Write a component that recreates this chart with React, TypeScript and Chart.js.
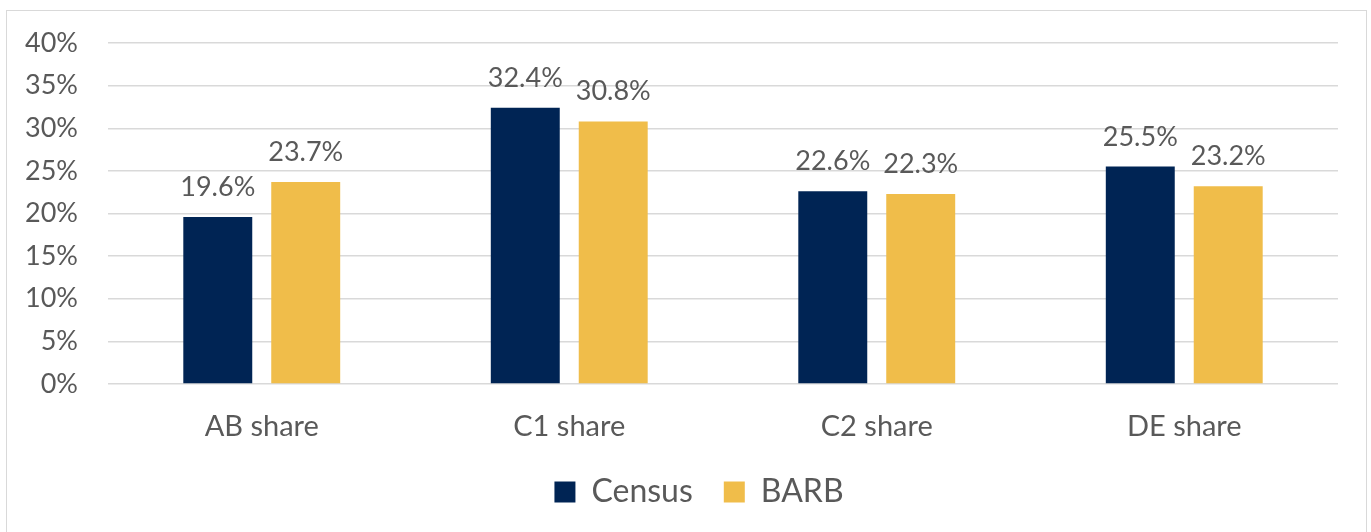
import React, { useEffect, useRef } from "react";
import { Chart, registerables } from "chart.js";

Chart.register(...registerables);

const categories = ["AB share", "C1 share", "C2 share", "DE share"];
const censusValues = [19.6, 32.4, 22.6, 25.5];
const barbValues = [23.7, 30.8, 22.3, 23.2];
const seriesNames = ["Census", "BARB"];

const NAVY = "#002454";
const GOLD = "#F0BD4A";
const TEXT = "#595959";
const GRID = "#D9D9D9";
const FONT = "Lato, 'Open Sans', sans-serif";

const LEGEND_TOP = 445;
const LEGEND_SHIFT = 30;

const dataLabels = {
  id: "dataLabels",
  afterInit(chart: any) {
    const lg = chart.legend;
    if (lg && !lg.__patched) {
      const orig = lg.fit.bind(lg);
      lg.fit = () => {
        orig();
        lg.height = 532 - LEGEND_TOP;
      };
      lg.__patched = true;
    }
  },
  afterLayout(chart: any) {
    const lg = chart.legend;
    if (lg) {
      lg.top = LEGEND_TOP;
      lg.bottom = LEGEND_TOP + lg.height;
      lg.left += LEGEND_SHIFT;
      lg.right += LEGEND_SHIFT;
    }
  },
  afterDatasetsDraw(chart: any) {
    const ctx = chart.ctx;
    ctx.save();
    ctx.font = `27px ${FONT}`;
    ctx.fillStyle = TEXT;
    ctx.textAlign = "center";
    ctx.textBaseline = "alphabetic";
    chart.data.datasets.forEach((ds: any, i: number) => {
      const meta = chart.getDatasetMeta(i);
      meta.data.forEach((bar: any, j: number) => {
        ctx.fillText(ds.data[j].toFixed(1) + "%", bar.x, bar.y - 21);
      });
    });
    ctx.restore();
  },
};

export default function App() {
  const ref = useRef<HTMLCanvasElement | null>(null);
  useEffect(() => {
    document.body.style.margin = "0";
    const chart = new Chart(ref.current!, {
      type: "bar",
      data: {
        labels: categories,
        datasets: [
          { label: seriesNames[0], data: censusValues, backgroundColor: NAVY },
          { label: seriesNames[1], data: barbValues, backgroundColor: GOLD },
        ],
      },
      options: {
        animation: false,
        responsive: false,
        maintainAspectRatio: false,
        layout: { padding: { top: 43, right: 33, bottom: 0, left: 0 } },
        datasets: {
          bar: { categoryPercentage: 0.572, barPercentage: 0.784 },
        } as any,
        scales: {
          x: {
            grid: { display: false },
            border: { display: false },
            ticks: { color: TEXT, font: { family: FONT, size: 29 }, padding: 17 },
            afterFit: (s: any) => {
              s.height = LEGEND_TOP - 384;
            },
          },
          y: {
            min: 0,
            max: 40,
            ticks: {
              stepSize: 5,
              color: TEXT,
              padding: 0,
              font: { family: FONT, size: 27 },
              callback: (v: any) => v + "%",
            },
            grid: {
              color: GRID,
              lineWidth: 1.5,
              drawTicks: true,
              tickLength: 30,
              tickColor: "rgba(0,0,0,0)",
            },
            border: { display: false },
            afterFit: (s: any) => {
              s.width = 108;
            },
          },
        },
        plugins: {
          legend: {
            position: "bottom",
            labels: {
              boxWidth: 21,
              boxHeight: 21,
              padding: 31,
              color: TEXT,
              font: { family: FONT, size: 32 },
            },
          },
          tooltip: { enabled: false },
        },
      },
      plugins: [dataLabels],
    });
    return () => chart.destroy();
  }, []);
  return (
    <div style={{ position: "fixed", left: 0, top: 0, width: 1371, height: 532, background: "#fff" }}>
      <div
        style={{
          position: "absolute",
          left: 6,
          top: 10,
          width: 1359,
          height: 600,
          border: "1.5px solid #D9D9D9",
        }}
      />
      <canvas ref={ref} width={1371} height={532} style={{ position: "absolute", left: 0, top: 0 }} />
    </div>
  );
}
